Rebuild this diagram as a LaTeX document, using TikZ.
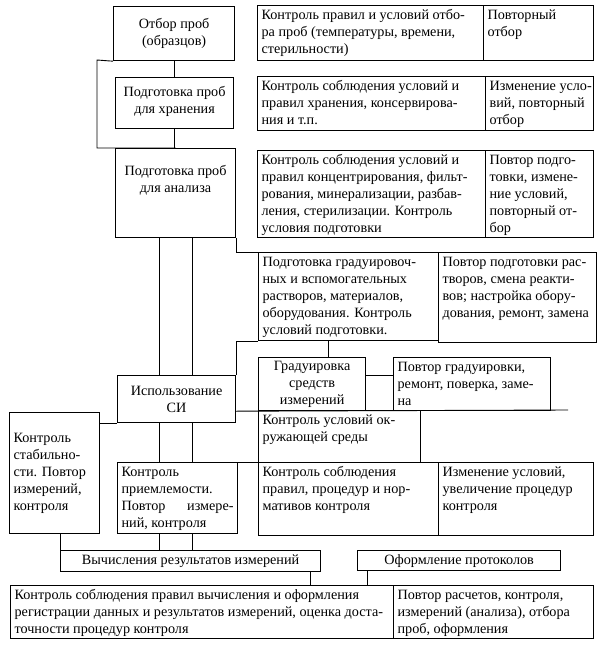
\documentclass[tikz,border=0pt]{standalone}
\usepackage{fontspec}
\setmainfont{Liberation Serif}
\tikzset{
  box/.style={draw, line width=1.2pt, inner xsep=4pt, inner ysep=2pt, anchor=north west,
    font=\fontsize{14.2}{17}\selectfont},
  link/.style={draw, line width=0.9pt},
}
% name, x1, y1, x2, y2 (pixels, y downwards), inner vertical alignment, text
\newcommand\bx[7]{\node[box] (#1) at (#2,#3)
  {\parbox[t][\dimexpr #5pt-#3pt-4pt\relax][#6]{\dimexpr #4pt-#2pt-8pt\relax}{#7}};}
\newcommand\tl[1]{\begin{tabular}[t]{@{}l@{}}#1\end{tabular}}
\begin{document}
\begin{tikzpicture}[x=1pt, y=-1pt]
\useasboundingbox (0,0) rectangle (604,647);
% left column
\bx{B1}{113}{6}{234}{60}{c}{\centering Отбор проб\\(образцов)}
\bx{B3}{115}{77}{233}{128}{c}{\centering Подготовка проб\\для хранения\par\vspace{4pt}}
\bx{B5}{115}{148}{235}{237}{t}{\centering\vspace*{15pt}Подготовка проб\\для анализа}
% right column, top
\bx{B1a}{257}{5}{483}{60}{t}{\tl{Контроль правил и условий отбо-\\ра проб (температуры, времени,\\стерильности)}}
\bx{B1b}{483}{5}{593}{60}{t}{\tl{Повторный\\отбор}}
\bx{B2a}{257}{76}{485}{130}{t}{\tl{Контроль соблюдения условий и\\правил хранения, консервирова-\\ния и т.п.}}
\bx{B2b}{485}{76}{593}{130}{t}{\tl{Изменение усло-\\вий, повторный\\отбор}}
\bx{B3a}{257}{150}{485}{237}{t}{\tl{Контроль соблюдения условий и\\правил концентрирования, фильт-\\рования, минерализации, разбав-\\ления, стерилизации. Контроль\\условия подготовки}}
\bx{B3b}{485}{150}{593}{237}{t}{\tl{Повтор подго-\\товки, измене-\\ние условий,\\повторный от-\\бор}}
% preparation of calibration solutions
\bx{GP}{258}{252}{438}{340}{t}{\tl{Подготовка градуировоч-\\ных и вспомогательных\\растворов, материалов,\\оборудования. Контроль\\условий подготовки.}}
\bx{PR}{438}{252}{596}{342}{t}{\tl{Повтор подготовки рас-\\творов, смена реакти-\\вов; настройка обору-\\дования, ремонт, замена}}
\bx{Grad}{258}{357}{365}{410}{c}{\centering Градуировка\\средств\\измерений}
\bx{PG}{393}{357}{550}{410}{t}{\tl{Повтор градуировки,\\ремонт, поверка, заме-\\на}}
\bx{SI}{117}{375}{235}{422}{c}{\centering Использование\\СИ}
\bx{OS}{258}{410}{420}{462}{t}{\tl{Контроль условий ок-\\ружающей среды}}
\bx{KST}{9}{412}{99}{533}{c}{\tl{Контроль\\стабильно-\\сти. Повтор\\измерений,\\контроля}}
\bx{KP}{117}{462}{237}{533}{t}{\tl{Контроль\\приемлемости.\\\makebox[112pt][s]{Повтор\hfill измере-}\\ний, контроля}}
\bx{KS}{258}{462}{438}{535}{t}{\tl{Контроль соблюдения\\правил, процедур и нор-\\мативов контроля}}
\bx{IU}{438}{462}{593}{535}{t}{\tl{Изменение условий,\\увеличение процедур\\контроля}}
\bx{VR}{60}{550}{320}{571}{c}{\centering Вычисления результатов измерений}
\bx{OP}{357}{550}{560}{570}{c}{\centering Оформление протоколов}
\bx{KB}{10}{585}{393}{638}{t}{\tl{Контроль соблюдения правил вычисления и оформления\\регистрации данных и результатов измерений, оценка доста-\\точности процедур контроля}}
\bx{PB}{393}{585}{593}{638}{t}{\tl{Повтор расчетов, контроля,\\измерений (анализа), отбора\\проб, оформления}}
% guide coordinates
\coordinate (vA) at (159,0);
\coordinate (vB) at (192,0);
\coordinate (vC) at (328,0);
\coordinate (vD) at (60,0);
\coordinate (vE) at (310,0);
\coordinate (vF) at (367,0);
\coordinate (hG) at (0,375);
\coordinate (L1) at (97,60);
\coordinate (E1) at (568,410);
% connectors
\draw[link] (B1.south) -- (B1.south |- B3.north);
\draw[link] (B3.south) -- (B3.south |- B5.north);
\draw[link] (B1.south west) -- (L1) |- (B5.north);
\draw[link] (B5.south -| vA) -- (SI.north -| vA);
\draw[link] (B5.south -| vB) -- (SI.north -| vB);
\draw[link] (B5.south east) |- (GP.north west);
\draw[link] (GP.south west) -| (SI.north east);
\draw[link] (GP.south -| vC) -- (Grad.north -| vC);
\draw[link] (Grad.east |- hG) -- (PG.west |- hG);
\draw[link] (SI.east |- Grad.south) -- (E1);
\draw[link] (SI.south west) -- (SI.south west -| KST.east);
\draw[link] (SI.south -| vA) -- (KP.north -| vA);
\draw[link] (SI.south -| vB) -- (KP.north -| vB);
\draw[link] (KP.north east) -- (KS.north west);
\draw[link] (KP.south -| vA) -- (VR.north -| vA);
\draw[link] (KP.south -| vB) -- (VR.north -| vB);
\draw[link] (KST.south -| vD) -- (VR.north west);
\draw[link] (VR.south -| vE) -- (KB.north -| vE);
\draw[link] (OP.south -| vF) -- (KB.north -| vF);
\end{tikzpicture}
\end{document}
